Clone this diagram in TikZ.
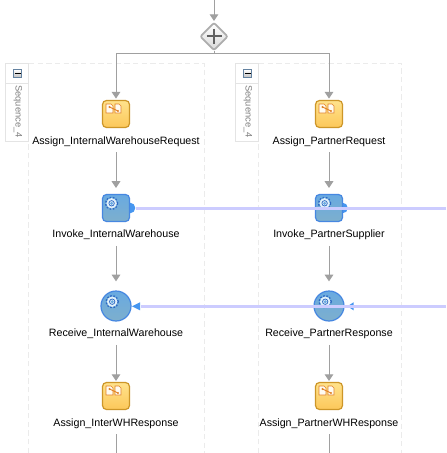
\documentclass[tikz,border=0pt]{standalone}
\usepackage{fontspec}
\setmainfont{Liberation Sans}
\usetikzlibrary{arrows.meta,shapes.geometric}
\definecolor{flowgray}{RGB}{160,160,160}
\definecolor{linkblue}{RGB}{204,204,255}
\definecolor{dashgray}{RGB}{235,235,235}
\definecolor{tabgray}{RGB}{228,228,228}
\definecolor{assignedge}{RGB}{205,150,40}
\definecolor{assigntop}{RGB}{255,226,140}
\definecolor{assignbot}{RGB}{252,200,90}
\definecolor{orangeink}{RGB}{225,130,40}
\definecolor{svcedge}{RGB}{70,135,225}
\definecolor{svctop}{RGB}{105,170,225}
\definecolor{svcbot}{RGB}{125,175,205}
\definecolor{tipblue}{RGB}{70,150,240}
\definecolor{minusedge}{RGB}{100,130,160}
\definecolor{gearink}{RGB}{45,105,195}
\definecolor{gearfill}{RGB}{225,240,250}
\tikzset{
 x=0.75pt,y=-0.75pt,
 assignbox/.style={draw=assignedge,line width=0.9pt,rounded corners=3pt,top color=assigntop,bottom color=assignbot,minimum width=27*0.75pt,minimum height=27*0.75pt,inner sep=0pt},
 invokebox/.style={draw=svcedge,line width=0.9pt,rounded corners=3pt,top color=svctop,bottom color=svcbot,minimum width=27*0.75pt,minimum height=27*0.75pt,inner sep=0pt},
 receivecirc/.style={circle,draw=svcedge,line width=0.9pt,top color=svctop,bottom color=svcbot,minimum size=30*0.75pt,inner sep=0pt},
 gatebox/.style={diamond,draw=black!32,line width=1.3pt,top color=white,bottom color=black!15,minimum size=28*0.75pt,inner sep=0pt,rounded corners=1.5pt},
 lab/.style={font=\fontsize{8pt}{10pt}\selectfont,text=black,inner sep=0pt,minimum height=24*0.75pt,text height=7pt,text depth=1pt},
 flow/.style={draw=flowgray,line width=0.7pt},
 flowtip/.style={flow,-{Triangle[length=5pt,width=6.5pt,fill=flowgray]}},
 seqline/.style={draw=dashgray,line width=0.75pt,dash pattern=on 4pt off 2.5pt},
 tabline/.style={draw=tabgray,line width=0.75pt},
 linkline/.style={draw=linkblue,line width=2.4pt},
 minusbox/.style={draw=minusedge,line width=0.6pt,top color=white,bottom color=black!25,minimum size=6pt,inner sep=0pt},
 seqtxt/.style={font=\fontsize{7pt}{9pt}\selectfont,text=black!50,rotate=-90,inner sep=0pt},
}
\newcommand{\docpair}[2]{%
 \begin{scope}[shift={(#1,#2)}]
  \fill[white!88!assigntop,draw=orangeink,line width=0.5pt] (-10,-10) -- (-5,-10) -- (-3,-8) -- (-3,-1) -- (-10,-1) -- cycle;
  \fill[white!88!assigntop,draw=orangeink,line width=0.5pt] (-1,-10) -- (3,-10) -- (5,-8) -- (5,-1) -- (-1,-1) -- cycle;
  \draw[orangeink,line width=0.7pt] (-6.5,-7) -- (2,-3);
  \fill[orangeink] (-6.5,-7) circle (1.2) (2,-3) circle (1.2);
 \end{scope}}
\newcommand{\gearmark}[2]{%
 \begin{scope}[shift={(#1,#2)}]
  \draw[gearink,line width=1.1pt,dash pattern=on 1.2pt off 1.2pt] (0,0) circle (5.9);
  \fill[gearfill] (0,0) circle (5.2);
  \draw[gearink,line width=0.55pt] (0,0) circle (2.7);
  \fill[svctop] (0,0) circle (1.6);
 \end{scope}}
\begin{document}
\begin{tikzpicture}
\useasboundingbox (0,0) rectangle (446,453);
\fill[white] (0,0) rectangle (446,453);
% containers
\draw[seqline] (28.5,453) -- (28.5,63.5) -- (204.5,63.5) -- (204.5,453);
\draw[seqline] (258.5,453) -- (258.5,63.5) -- (401.5,63.5) -- (401.5,453);
\draw[tabline] (28.5,63.5) -- (5.5,63.5) -- (5.5,141.5) -- (28.5,141.5) -- cycle (5.5,83.5) -- (28.5,83.5);
\draw[tabline] (258.5,63.5) -- (235.5,63.5) -- (235.5,141.5) -- (258.5,141.5) -- cycle (235.5,83.5) -- (258.5,83.5);
\foreach \tx/\nm in {17.5/sa,247.5/sb}{
 \node[minusbox] (\nm) at (\tx,73.5) {};
 \draw[black,line width=0.7pt] (\tx-3,73.5) -- (\tx+3,73.5);
 \node[seqtxt] (\nm t) at (\tx+0.5,111.5) {Sequence\_4};
}
% ports
\fill[tipblue] (130,208) circle (5.3);
\fill[tipblue] (342.5,208) circle (5.3);
% nodes
\coordinate (top) at (214,0);
\node[gatebox] (gate) at (214,36.5) {};
\draw[black!62,line width=1.5pt] (214,29) -- (214,44) (206.5,36.5) -- (221.5,36.5);
\coordinate (split) at (214,53);
\foreach \nm/\cx in {l/116,r/329}{
 \node[assignbox] (\nm i1) at (\cx,114) {};
 \docpair{\cx}{114}
 \node[invokebox] (\nm i2) at (\cx,208) {};
 \gearmark{\cx-4.4}{203.3}
 \node[receivecirc] (\nm i3) at (\cx,306) {};
 \gearmark{\cx-3.8}{301.7}
 \node[assignbox] (\nm i4) at (\cx,396) {};
 \docpair{\cx}{396}
 \coordinate (\nm end) at (\cx,453);
}
\node[lab] (la) at (116,140) {Assign\_InternalWarehouseRequest};
\node[lab] (lb) at (116,233.5) {Invoke\_InternalWarehouse};
\node[lab] (lc) at (116,332.5) {Receive\_InternalWarehouse};
\node[lab] (ld) at (116,422) {Assign\_InterWHResponse};
\node[lab] (ra) at (329,140) {Assign\_PartnerRequest};
\node[lab] (rb) at (329,233.5) {Invoke\_PartnerSupplier};
\node[lab] (rc) at (329,332.5) {Receive\_PartnerResponse};
\node[lab] (rd) at (329,422) {Assign\_PartnerWHResponse};
% flow
\draw[flowtip,shorten >=0.5pt] (top) -- (gate.north);
\draw[flow] (gate.south) -- (split);
\draw[flowtip,shorten >=1pt] (split) -| (li1.north);
\draw[flowtip,shorten >=1pt] (split) -| (ri1.north);
\foreach \nm in {l,r}{
 \draw[flowtip,shorten >=4.5pt] (\nm a.south) -- (\nm i2.north);
 \draw[flowtip,shorten >=6.8pt] (\nm b.south) -- (\nm i3.north);
 \draw[flowtip,shorten >=0.7pt] (\nm c.south) -- (\nm i4.north);
 \draw[flow] (\nm d.south) -- (\nm end);
}
% triangles at the receive activities
\fill[tipblue] (132,306.3) -- (140,302.3) -- (140,310.3) -- cycle;
\fill[tipblue] (347.5,306.3) -- (353.5,302.3) -- (353.5,310.3) -- cycle;
% partner links
\coordinate (linkinv) at (446,208.3);
\coordinate (linkrec) at (446,306.5);
\draw[linkline,shorten >=4.5pt] (linkinv) -- (li2.east |- linkinv);
\draw[linkline,shorten >=6.8pt] (linkrec) -- (li3.east |- linkrec);
\end{tikzpicture}
\end{document}
